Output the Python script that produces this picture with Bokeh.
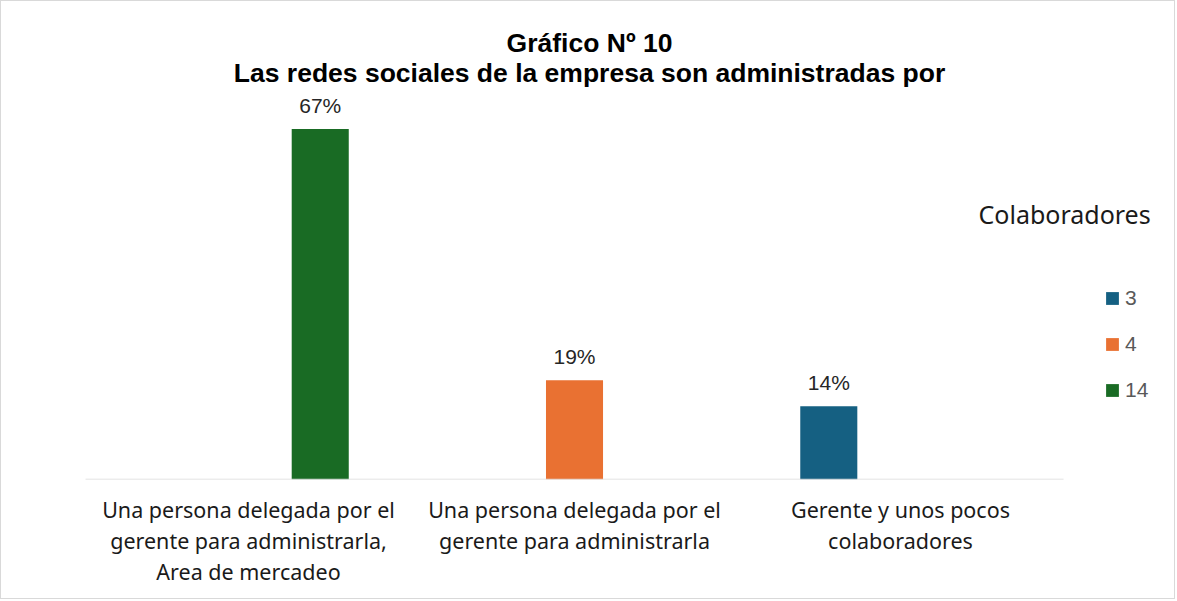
from bokeh.plotting import figure
from bokeh.models import (ColumnDataSource, Range1d, FixedTicker, Label, Legend, LegendItem)
from bokeh.core.properties import value
from bokeh.embed import file_html
from bokeh.resources import INLINE

# ---- data ----
categories = [
    "Una persona delegada por el\ngerente para administrarla,\nArea de mercadeo",
    "Una persona delegada por el\ngerente para administrarla",
    "Gerente y unos pocos\ncolaboradores",
]
series_names = ["3", "4", "14"]
values_3 = [0.0, 0.0, 0.14]
values_4 = [0.0, 0.19, 0.0]
values_14 = [0.67, 0.0, 0.0]
title_line1 = "Gráfico Nº 10"
title_line2 = "Las redes sociales de la empresa son administradas por"
legend_title = "Colaboradores"

colors = ["#156082", "#E97132", "#196B24"]
offsets = [-0.22, 0.0, 0.22]
bar_w = 0.175

W, H = 1175, 599
p = figure(width=W, height=H, output_backend="svg", toolbar_location=None,
           x_range=Range1d(-0.2577, 3.3466), y_range=Range1d(0, 0.914),
           min_border_left=0, min_border_right=0, min_border_top=0, min_border_bottom=121)
p.outline_line_color = None
p.xgrid.visible = False
p.ygrid.visible = False
p.yaxis.visible = False
p.styles = {"border": "1px solid #d9d9d9"}

font = "Noto Sans"
renderers = []
for name, vals, col, off in zip(series_names, [values_3, values_4, values_14], colors, offsets):
    xs = [i + 0.5 + off for i in range(len(categories))]
    src = ColumnDataSource(dict(x=xs, top=vals))
    r = p.vbar(x="x", top="top", bottom=0, width=bar_w, source=src,
               fill_color=col, line_color=None)
    renderers.append(r)
    lx = [x for x, v in zip(xs, vals) if v > 0]
    ly = [v for v in vals if v > 0]
    lt = [f"{round(v * 100)}%" for v in vals if v > 0]
    p.text(x=lx, y=ly, text=lt, text_align="center", text_baseline="bottom",
           y_offset=-12, text_font=value("Liberation Sans"), text_font_size="21px",
           text_color="#262626")

# axis baseline
p.segment(x0=[0], y0=[0], x1=[len(categories)], y1=[0], line_color="#d9d9d9", line_width=1.5)

ax = p.xaxis[0]
ax.ticker = FixedTicker(ticks=[i + 0.5 for i in range(len(categories))])
ax.major_label_overrides = {i + 0.5: c for i, c in enumerate(categories)}
ax.axis_line_color = None
ax.major_tick_line_color = None
ax.minor_tick_line_color = None
ax.major_label_standoff = 9
ax.major_label_text_font = font
ax.major_label_text_font_size = "21.5px"
ax.major_label_text_color = "#1a1a1a"
ax.major_label_text_line_height = 1.085

# titles
p.add_layout(Label(x=588, y=437, x_units="screen", y_units="screen", text=title_line1,
                   text_align="center", text_baseline="middle", text_font="Liberation Sans",
                   text_font_style="bold", text_font_size="26.5px", text_color="#000000"))
p.add_layout(Label(x=588, y=407, x_units="screen", y_units="screen", text=title_line2,
                   text_align="center", text_baseline="middle", text_font="Liberation Sans",
                   text_font_style="bold", text_font_size="26.5px", text_color="#000000"))
p.add_layout(Label(x=977, y=266, x_units="screen", y_units="screen", text=legend_title,
                   text_align="left", text_baseline="middle", text_font=font,
                   text_font_size="25px", text_color="#1a1a1a"))

legend = Legend(items=[LegendItem(label=n, renderers=[r]) for n, r in zip(series_names, renderers)],
                location=(1103, 77), orientation="vertical")
legend.glyph_width = 16
legend.glyph_height = 16
legend.label_height = 20
legend.spacing = 22
legend.label_standoff = 5
legend.padding = 0
legend.margin = 0
legend.border_line_color = None
legend.background_fill_alpha = 0
legend.label_text_font = "Liberation Sans"
legend.label_text_font_size = "21px"
legend.label_text_color = "#595959"
p.add_layout(legend, "center")

open("out.html", "w").write(file_html(p, INLINE))
